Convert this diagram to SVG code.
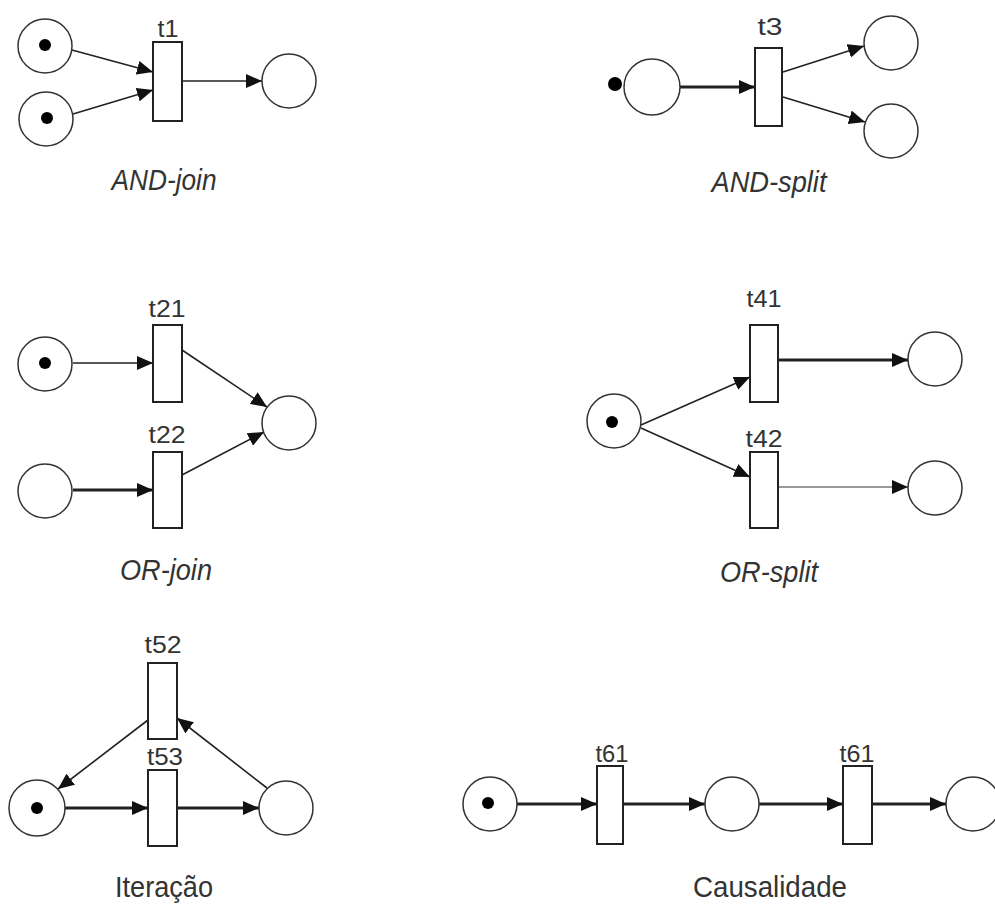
<svg xmlns="http://www.w3.org/2000/svg" width="995" height="905" viewBox="0 0 995 905">
<style>
.place{fill:#fff;stroke:#333;stroke-width:1.5}
.token{fill:#000}
.trans{fill:#fff;stroke:#222;stroke-width:2}
.arc{stroke:#222;stroke-width:1.6;fill:none}
.thick{stroke:#222;stroke-width:3;fill:none}
.light{stroke:#777;stroke-width:1.5;fill:none}
.lbl{font-family:"Liberation Sans",Arial,sans-serif;font-size:24px;fill:#333;text-anchor:middle}
.cap{font-family:"Liberation Sans",Arial,sans-serif;font-size:29px;fill:#333;text-anchor:middle}
.it{font-style:italic}
</style>
<defs>
<marker id="ah" markerUnits="userSpaceOnUse" markerWidth="16" markerHeight="14" refX="16" refY="7" orient="auto">
<path d="M0,0 L16,7 L0,14 z" fill="#111"/>
</marker>
</defs>
<rect width="995" height="905" fill="#fff"/>

<g id="connectors" marker-end="url(#ah)">
<!-- AND-join -->
<line class="arc" x1="72" y1="50" x2="153" y2="72"/>
<line class="arc" x1="73" y1="114" x2="153" y2="90"/>
<line class="arc" x1="182" y1="81" x2="262" y2="81"/>
<!-- AND-split -->
<line class="thick" x1="680" y1="87" x2="755" y2="87"/>
<line class="arc" x1="783" y1="72" x2="864" y2="46"/>
<line class="arc" x1="783" y1="97" x2="865" y2="122"/>
<!-- OR-join -->
<line class="arc" x1="73" y1="363" x2="153" y2="363"/>
<line class="thick" x1="73" y1="490" x2="153" y2="490"/>
<line class="arc" x1="182" y1="350" x2="267" y2="407"/>
<line class="arc" x1="182" y1="475" x2="264" y2="432"/>
<!-- OR-split -->
<line class="arc" x1="641" y1="425" x2="750" y2="377"/>
<line class="arc" x1="641" y1="428" x2="750" y2="477"/>
<line class="thick" x1="778" y1="360" x2="908" y2="360"/>
<line class="light" x1="778" y1="487" x2="908" y2="487"/>
<!-- Iteracao -->
<line class="thick" x1="65" y1="808" x2="148" y2="808"/>
<line class="thick" x1="177" y1="808" x2="259" y2="808"/>
<line class="arc" x1="267" y1="788" x2="177" y2="718"/>
<line class="arc" x1="148" y1="720" x2="58" y2="789"/>
<!-- Causalidade -->
<line class="thick" x1="517" y1="804" x2="597" y2="804"/>
<line class="thick" x1="623" y1="804" x2="705" y2="804"/>
<line class="thick" x1="759" y1="804" x2="843" y2="804"/>
<line class="thick" x1="872" y1="804" x2="946" y2="804"/>
</g>

<!-- AND-join -->
<g id="p_andjoin_1"><circle class="place" cx="45" cy="46" r="27"/><circle class="token" cx="45" cy="45" r="6"/></g>
<g id="p_andjoin_2"><circle class="place" cx="46" cy="119" r="27"/><circle class="token" cx="47" cy="118" r="6"/></g>
<g id="t1"><rect class="trans" x="153" y="42" width="29" height="79"/><text class="lbl" x="168" y="37" textLength="21" lengthAdjust="spacingAndGlyphs">t1</text></g>
<g id="p_andjoin_out"><circle class="place" cx="289" cy="81" r="27"/></g>
<text class="cap it" x="164" y="190" textLength="105" lengthAdjust="spacingAndGlyphs">AND-join</text>

<!-- AND-split -->
<g id="p_andsplit_in"><circle class="token" cx="615" cy="84" r="7"/><circle class="place" cx="652" cy="87" r="28"/></g>
<g id="t3"><rect class="trans" x="755" y="48" width="27" height="78"/><text class="lbl" x="770" y="35" textLength="25" lengthAdjust="spacingAndGlyphs">t3</text></g>
<g id="p_andsplit_out1"><circle class="place" cx="891" cy="43" r="27"/></g>
<g id="p_andsplit_out2"><circle class="place" cx="891" cy="131" r="27"/></g>
<text class="cap it" x="769" y="192" textLength="115" lengthAdjust="spacingAndGlyphs">AND-split</text>

<!-- OR-join -->
<g id="p_orjoin_1"><circle class="place" cx="45" cy="364" r="27"/><circle class="token" cx="45" cy="363" r="6"/></g>
<g id="p_orjoin_2"><circle class="place" cx="45" cy="491" r="27"/></g>
<g id="t21"><rect class="trans" x="153" y="325" width="29" height="77"/><text class="lbl" x="167" y="317" textLength="37" lengthAdjust="spacingAndGlyphs">t21</text></g>
<g id="t22"><rect class="trans" x="153" y="452" width="29" height="76"/><text class="lbl" x="167" y="443" textLength="37" lengthAdjust="spacingAndGlyphs">t22</text></g>
<g id="p_orjoin_out"><circle class="place" cx="289" cy="423" r="27"/></g>
<text class="cap it" x="166" y="580" textLength="92" lengthAdjust="spacingAndGlyphs">OR-join</text>

<!-- OR-split -->
<g id="p_orsplit_in"><circle class="place" cx="614" cy="421" r="27"/><circle class="token" cx="612" cy="422" r="6"/></g>
<g id="t41"><rect class="trans" x="750" y="325" width="28" height="77"/><text class="lbl" x="764" y="307" textLength="35" lengthAdjust="spacingAndGlyphs">t41</text></g>
<g id="t42"><rect class="trans" x="750" y="452" width="28" height="76"/><text class="lbl" x="764" y="447" textLength="37" lengthAdjust="spacingAndGlyphs">t42</text></g>
<g id="p_orsplit_out1"><circle class="place" cx="935" cy="359" r="27"/></g>
<g id="p_orsplit_out2"><circle class="place" cx="935" cy="488" r="27"/></g>
<text class="cap it" x="769" y="582" textLength="98" lengthAdjust="spacingAndGlyphs">OR-split</text>

<!-- Iteracao -->
<g id="t52"><rect class="trans" x="148" y="663" width="29" height="76"/><text class="lbl" x="163" y="653" textLength="37" lengthAdjust="spacingAndGlyphs">t52</text></g>
<g id="t53"><rect class="trans" x="148" y="770" width="29" height="76"/><text class="lbl" x="165" y="765" textLength="36" lengthAdjust="spacingAndGlyphs">t53</text></g>
<g id="p_iter_1"><circle class="place" cx="37" cy="808" r="28"/><circle class="token" cx="37" cy="808" r="6"/></g>
<g id="p_iter_2"><circle class="place" cx="286" cy="808" r="27"/></g>
<text class="cap" x="164" y="897" textLength="98" lengthAdjust="spacingAndGlyphs">Iteração</text>

<!-- Causalidade -->
<g id="p_caus_1"><circle class="place" cx="490" cy="804" r="27"/><circle class="token" cx="488" cy="803" r="6"/></g>
<g id="t61a"><rect class="trans" x="597" y="766" width="26" height="78"/><text class="lbl" x="612" y="762" textLength="33" lengthAdjust="spacingAndGlyphs">t61</text></g>
<g id="p_caus_2"><circle class="place" cx="732" cy="804" r="27"/></g>
<g id="t61b"><rect class="trans" x="843" y="766" width="29" height="78"/><text class="lbl" x="857" y="762" textLength="35" lengthAdjust="spacingAndGlyphs">t61</text></g>
<g id="p_caus_3"><circle class="place" cx="973" cy="804" r="27"/></g>
<text class="cap" x="770" y="897" textLength="154" lengthAdjust="spacingAndGlyphs">Causalidade</text>
</svg>
